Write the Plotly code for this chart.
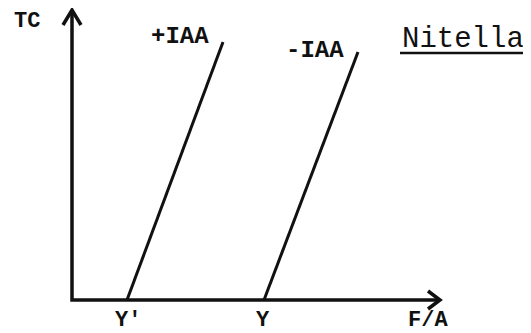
import plotly.graph_objects as go

# Schematic data (arbitrary units; origin at the axes corner)
plus_iaa_x = [55, 151]
plus_iaa_y = [0, 258]
minus_iaa_x = [192, 286]
minus_iaa_y = [0, 248]

x_axis_len = 368
y_axis_len = 290

tick_labels = ["Y'", "Y"]
tick_positions = [56, 191]

FONT = "Liberation Mono"
INK = "#111111"

fig = go.Figure()

# axes
fig.add_trace(go.Scatter(x=[0, 0, x_axis_len], y=[y_axis_len, 0, 0], mode="lines",
                         line=dict(color=INK, width=3.5), hoverinfo="skip"))
# arrowheads (chevrons)
ah = 9
fig.add_trace(go.Scatter(x=[-ah, 0, ah], y=[y_axis_len - 15, y_axis_len, y_axis_len - 15],
                         mode="lines", line=dict(color=INK, width=3.5)))
fig.add_trace(go.Scatter(x=[x_axis_len - 12, x_axis_len, x_axis_len - 12], y=[ah, 0, -ah],
                         mode="lines", line=dict(color=INK, width=3.5)))

# data lines
fig.add_trace(go.Scatter(x=plus_iaa_x, y=plus_iaa_y, mode="lines",
                         line=dict(color=INK, width=3)))
fig.add_trace(go.Scatter(x=minus_iaa_x, y=minus_iaa_y, mode="lines",
                         line=dict(color=INK, width=3)))

def label(text, x, y, size=24):
    fig.add_annotation(x=x, y=y, xref="x", yref="y", text=text, showarrow=False,
                       font=dict(family=FONT, size=size, color=INK),
                       xanchor="center", yanchor="middle", borderpad=0)

label("<b>TC</b>", -45, 279, size=22)
label("<b>+IAA</b>", 108, 264)
label("<b>-IAA</b>", 243, 250)
label("Nitella", 391, 261, size=29)
for t, p in zip(tick_labels, tick_positions):
    label("<b>" + t + "</b>", p, -20, size=22)
label("<b>F/A</b>", 356, -20, size=22)

# underline of Nitella
fig.add_shape(type="line", x0=328, x1=455, y0=247, y1=247, xref="x", yref="y",
              line=dict(color=INK, width=2.5))

# The page body adds an 8px margin, so the figure is sized to fit the window.
fig.update_layout(
    width=523, height=325,
    margin=dict(l=0, r=0, t=0, b=0),
    paper_bgcolor="white", plot_bgcolor="white",
    showlegend=False,
    xaxis=dict(range=[-64, 459], visible=False, fixedrange=True),
    yaxis=dict(range=[-33, 292], visible=False, fixedrange=True),
)

fig.write_html("out.html")
